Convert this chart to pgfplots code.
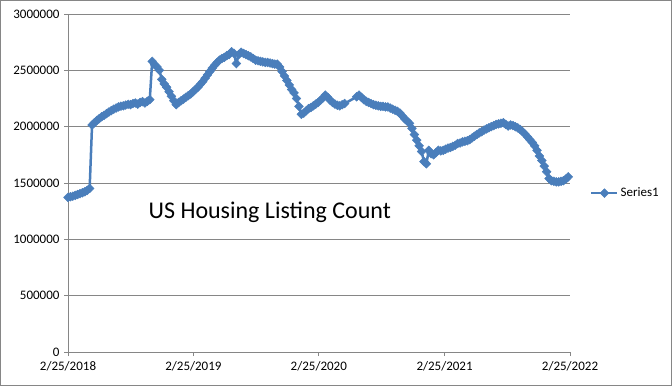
\documentclass[border=0pt]{standalone}
\usepackage{fontspec}
\setmainfont{Carlito}
\usepackage{pgfplots}
\pgfplotsset{compat=1.18}
\definecolor{serblue}{RGB}{74,126,187}
\definecolor{gridgray}{RGB}{134,134,134}
\begin{document}
\begin{tikzpicture}[x=1pt,y=1pt]
\useasboundingbox (0,0) rectangle (672,386);
\draw[gridgray, line width=1pt] (0.5,0.5) rectangle (671.5,385.5);
\begin{axis}[
  at={(68pt,34pt)}, anchor=south west,
  scale only axis, width=502pt, height=338pt,
  xmin=0, xmax=208.714, ymin=0, ymax=3000000,
  axis x line*=bottom, axis y line*=left,
  axis line style={gridgray, line width=0.75pt},
  ymajorgrids, grid style={gridgray, line width=0.75pt},
  xtick={0,52.143,104.286,156.571,208.714},
  xticklabels={2/25/2018,2/25/2019,2/25/2020,2/25/2021,2/25/2022},
  ytick={0,500000,1000000,1500000,2000000,2500000,3000000},
  scaled y ticks=false,
  yticklabel style={/pgf/number format/fixed, /pgf/number format/1000 sep={}, xshift=-1pt},
  xticklabel style={yshift=-1.5pt},
  /pgf/number format/assume math mode=true,
  tick style={gridgray, line width=0.75pt},
  tick align=outside, major tick length=4pt,
  ticklabel style={font=\fontsize{13}{15}\selectfont, black},
  clip=false,
  legend style={at={(1,0.47)}, anchor=west, xshift=20pt, draw=none, fill=none,
    font=\fontsize{13}{15}\selectfont, inner sep=0pt},
  legend image code/.code={\draw[#1, mark repeat=2, mark phase=2] plot coordinates {(0pt,0pt) (13pt,0pt) (26pt,0pt)};},
]
\addplot[serblue, line width=2.5pt, mark=square*, mark size=3.1pt, mark options={rotate=45, solid, fill=serblue, draw=serblue, line width=0.5pt}]
coordinates {
(0,1372000) (1,1378000) (2,1383000) (3,1390000) (4,1398000) (5,1405000) (6,1413000) (7,1422000) (8,1435000) (9,1452000)
(10,2015000) (11,2035000) (12,2055000) (13,2072000) (14,2088000) (15,2100000) (16,2115000) (17,2130000) (18,2142000) (19,2155000)
(20,2165000) (21,2175000) (22,2182000) (23,2185000) (24,2192000) (25,2198000) (26,2195000) (27,2205000) (28,2210000) (29,2200000)
(30,2215000) (31,2222000) (32,2210000) (33,2225000) (34,2240000) (35,2580000) (36,2550000) (37,2530000) (38,2500000) (39,2420000)
(40,2380000) (41,2350000) (42,2310000) (43,2270000) (44,2230000) (45,2195000) (46,2215000) (47,2230000) (48,2245000) (49,2260000)
(50,2275000) (51,2290000) (52,2310000) (53,2330000) (54,2350000) (55,2375000) (56,2400000) (57,2430000) (58,2460000) (59,2490000)
(60,2520000) (61,2545000) (62,2570000) (63,2590000) (64,2605000) (65,2615000) (66,2630000) (67,2640000) (68,2665000) (69,2650000)
(70,2560000) (71,2640000) (72,2660000) (73,2650000) (74,2640000) (75,2630000) (76,2620000) (77,2605000) (78,2590000) (79,2585000)
(80,2580000) (81,2575000) (82,2570000) (83,2570000) (84,2565000) (85,2560000) (86,2555000) (87,2555000) (88,2530000) (89,2490000)
(90,2450000) (91,2410000) (92,2370000) (93,2330000) (94,2300000) (95,2250000) (96,2180000) (97,2110000) (98,2120000) (99,2140000)
(100,2160000) (101,2170000) (102,2185000) (103,2200000) (104,2215000) (105,2235000) (106,2255000) (107,2280000) (108,2260000) (109,2235000)
(110,2215000) (111,2200000) (112,2190000) (113,2185000) (114,2195000) (115,2205000)
(120,2265000) (121,2280000) (122,2260000) (123,2240000) (124,2225000) (125,2215000) (126,2205000) (127,2195000) (128,2190000) (129,2185000)
(130,2180000) (131,2180000) (132,2175000) (133,2175000) (134,2165000) (135,2155000) (136,2145000) (137,2135000) (138,2120000) (139,2095000)
(140,2070000) (141,2050000) (142,2030000) (143,1985000) (144,1930000) (145,1880000) (146,1830000) (147,1780000) (148,1690000) (149,1670000)
(150,1790000) (151,1760000) (152,1750000) (153,1770000) (154,1790000) (155,1785000) (156,1790000) (157,1800000) (158,1810000) (159,1815000)
(160,1825000) (161,1835000) (162,1850000) (163,1855000) (164,1865000) (165,1870000) (166,1875000) (167,1885000) (168,1900000) (169,1915000)
(170,1930000) (171,1945000) (172,1955000) (173,1970000) (174,1980000) (175,1990000) (176,2000000) (177,2010000) (178,2020000) (179,2025000)
(180,2030000) (181,2035000) (182,2020000) (183,2005000) (184,2015000) (185,2010000) (186,2000000) (187,1990000) (188,1975000) (189,1955000)
(190,1935000) (191,1910000) (192,1885000) (193,1860000) (194,1830000) (195,1790000) (196,1740000) (197,1700000) (198,1650000) (199,1600000)
(200,1540000) (201,1520000) (202,1515000) (203,1510000) (204,1510000) (205,1515000) (206,1520000) (207,1535000) (208,1555000)
};
\addlegendentry{Series1}
\node[font=\fontsize{24}{28}\selectfont, black] at (rel axis cs:0.402,0.414) {US Housing Listing Count};
\end{axis}
\end{tikzpicture}
\end{document}
